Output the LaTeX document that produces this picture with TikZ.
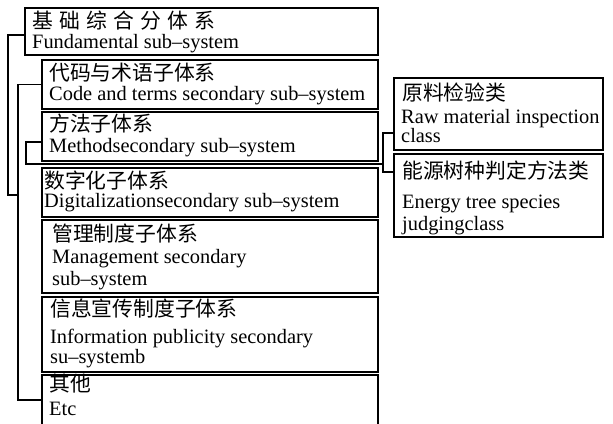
\documentclass[tikz,border=0pt]{standalone}
\usepackage{fontspec}
\setmainfont{Liberation Serif}
\newfontfamily\cjk{Noto Sans CJK SC}
\newfontfamily\cjkw[LetterSpace=30]{Noto Sans CJK SC}
\begin{document}
\begin{tikzpicture}[x=1pt,y=-1pt,
  box/.style={draw, rectangle, line width=1.3pt, inner sep=0pt},
  zh/.style={anchor=base west, inner sep=0pt, font=\cjk\fontsize{20.8}{24}\selectfont},
  zhw/.style={anchor=base west, inner sep=0pt, font=\cjkw\fontsize{20.8}{24}\selectfont},
  en/.style={anchor=base west, inner sep=0pt, font=\fontsize{20.4}{24}\selectfont},
  wire/.style={line width=1.3pt}]
\clip (0,0) rectangle (613,423);
\fill[white] (0,0) rectangle (613,423);
% boxes
\node[box, minimum width=353pt, minimum height=47pt] (fund) at (201.5,31.5) {};
\node[box, minimum width=336pt, minimum height=49pt] (code) at (210,84.5) {};
\node[box, minimum width=336pt, minimum height=49pt] (method) at (210,136.5) {};
\node[box, minimum width=336pt, minimum height=49pt] (digit) at (210,192.5) {};
\node[box, minimum width=336pt, minimum height=73pt] (manag) at (210,256.5) {};
\node[box, minimum width=336pt, minimum height=75pt] (info) at (210,334.5) {};
\node[box, minimum width=336pt, minimum height=65pt] (etc) at (210,407.5) {};
\node[box, minimum width=209pt, minimum height=72pt] (raw) at (498.5,114) {};
\node[box, minimum width=209pt, minimum height=83pt] (energy) at (498.5,195.5) {};
% texts
\node[zhw] (fundzh) at (32,28) {基础综合分体系};
\node[en] (funden) at (32,48) {Fundamental sub--system};
\node[zh] (codezh) at (49,80) {代码与术语子体系};
\node[en] (codeen) at (49,100) {Code and terms secondary sub--system};
\node[zh] (methzh) at (49,131) {方法子体系};
\node[en] (methen) at (49,152) {Methodsecondary sub--system};
\node[zh] (digzh) at (44,188) {数字化子体系};
\node[en] (digen) at (44,207) {Digitalizationsecondary sub--system};
\node[zh] (manzh) at (52,241) {管理制度子体系};
\node[en] (manena) at (52,263) {Management secondary};
\node[en] (manenb) at (52,285) {sub--system};
\node[zh] (infzh) at (50,316) {信息宣传制度子体系};
\node[en] (infena) at (50,343) {Information publicity secondary};
\node[en] (infenb) at (50,363) {su--systemb};
\node[zh] (etczh) at (49,391) {其他};
\node[en] (etcen) at (49,415) {Etc};
\node[zh] (rawzh) at (402,100) {原料检验类};
\node[en] (rawena) at (401,123) {Raw material inspection};
\node[en] (rawenb) at (401,142) {class};
\node[zh] (enezh) at (402,178) {能源树种判定方法类};
\node[en] (enena) at (402,208) {Energy tree species};
\node[en] (enenb) at (402,230) {judgingclass};
% connector levels
\coordinate (yA) at (0,35);
\coordinate (yM) at (0,142);
\coordinate (yE) at (0,400);
\coordinate (jr) at (383,164);
\coordinate (yR) at (0,133);
\coordinate (yN) at (0,172);
% connectors
\draw[wire] (fund.west |- yA) -- (8,35) -- (8,195) -- (18,195);
\draw[wire] (code.west) -- (18,84.5) -- (18,400) -- (etc.west |- yE);
\draw[wire] (method.west |- yM) -- (26,142) -- (26,164) -- (jr);
\draw[wire] (raw.west |- yR) -- (jr |- yR) -- (jr |- yN) -- (energy.west |- yN);
\end{tikzpicture}
\end{document}
